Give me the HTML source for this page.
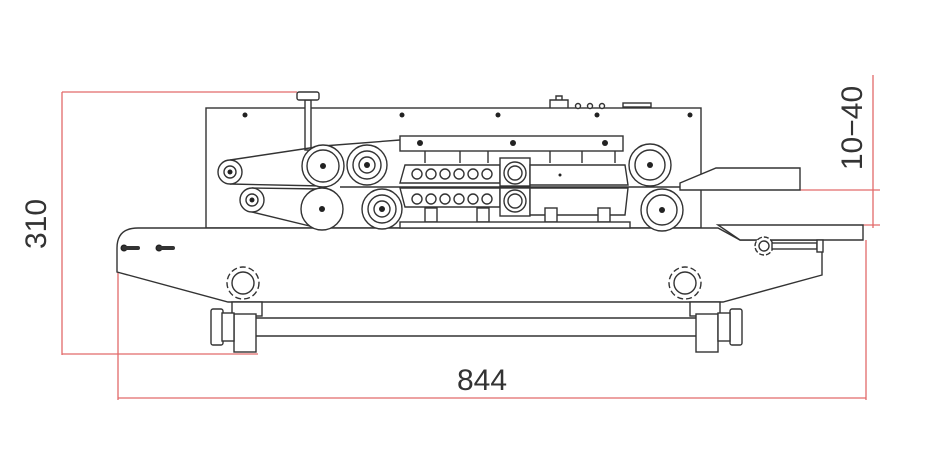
<!DOCTYPE html>
<html><head><style>
html,body{margin:0;padding:0;background:#fff;width:942px;height:462px;overflow:hidden}
svg{display:block}
text{font-family:"Liberation Sans",sans-serif;fill:#333}
</style></head><body>
<svg width="942" height="462" viewBox="0 0 942 462" xmlns="http://www.w3.org/2000/svg">
<g stroke="#e26a6a" stroke-width="1.3" fill="none">
<line x1="62" y1="92" x2="297" y2="92"/>
<line x1="62" y1="92" x2="62" y2="355"/>
<line x1="62" y1="354" x2="258" y2="354"/>
<line x1="873" y1="75" x2="873" y2="228"/>
<line x1="800" y1="190" x2="880" y2="190"/>
<line x1="863" y1="225" x2="880" y2="225"/>
<line x1="866" y1="240" x2="866" y2="400"/>
<line x1="118" y1="272" x2="118" y2="400"/>
<line x1="118" y1="398" x2="866" y2="398"/>
</g>
<text x="0" y="0" font-size="30" transform="translate(46,224) rotate(-90)" text-anchor="middle">310</text>
<text x="0" y="0" font-size="30" transform="translate(862,128) rotate(-90)" text-anchor="middle">10−40</text>
<text x="482" y="390" font-size="30" text-anchor="middle">844</text>

<g stroke="#333" stroke-width="1.4" fill="#fff">
<!-- upper box -->
<rect x="206" y="108" width="495" height="120"/>
<path d="M550 108 v-8 h18 v8 M556 100 v-4 h6 v4" fill="none"/>
<circle cx="578" cy="106" r="2.5"/><circle cx="590" cy="106" r="2.5"/><circle cx="602" cy="106" r="2.5"/>
<rect x="623" y="103" width="28" height="4"/>
<!-- knob post -->
<rect x="305" y="100" width="6" height="50"/>
<rect x="297" y="92" width="22" height="8" rx="2"/>
<!-- base -->
<path d="M138 228 H718 L740 240 H822 V275 L723 302 H228 L117 272 V248 Q117 228 138 228 Z"/>
<path d="M718 225 H863 V240 H740 Z"/>
<path d="M680 183 L716 168 H800 V190 H680 Z"/>
<!-- tube -->
<path d="M245 318 H700 M245 336 H700" fill="none"/>
<rect x="232" y="302" width="30" height="14"/>
<rect x="234" y="314" width="22" height="38"/>
<rect x="211" y="309" width="12" height="36" rx="2"/>
<rect x="222" y="313" width="12" height="28"/>
<rect x="690" y="302" width="30" height="14"/>
<rect x="696" y="314" width="22" height="38"/>
<rect x="730" y="309" width="12" height="36" rx="2"/>
<rect x="718" y="313" width="12" height="28"/>
<!-- star knobs -->
<circle cx="243" cy="283" r="16" stroke-dasharray="6 3"/><circle cx="243" cy="283" r="11"/>
<circle cx="685" cy="283" r="16" stroke-dasharray="6 3"/><circle cx="685" cy="283" r="11"/>
<circle cx="764" cy="246" r="9" stroke-dasharray="5 2"/><circle cx="764" cy="246" r="5"/>
<rect x="772" y="243" width="45" height="6"/><rect x="817" y="240" width="6" height="12"/>
<!-- belts -->
<path d="M230 160 L323 146 L400 140 M230 184 L323 186" fill="none"/>
<path d="M252 188 L322 189 M252 212 L322 229" fill="none"/>
<line x1="340" y1="187" x2="680" y2="187"/>
<!-- rollers -->
<circle cx="230" cy="172" r="12"/><circle cx="230" cy="172" r="6"/>
<circle cx="252" cy="200" r="12"/><circle cx="252" cy="200" r="6"/>
<circle cx="323" cy="166" r="21"/><circle cx="323" cy="166" r="16"/>
<circle cx="322" cy="209" r="21"/>
<circle cx="367" cy="165" r="20"/><circle cx="367" cy="165" r="14"/><circle cx="367" cy="165" r="8"/>
<circle cx="382" cy="209" r="20"/><circle cx="382" cy="209" r="14"/><circle cx="382" cy="209" r="8"/>
<circle cx="650" cy="165" r="21"/><circle cx="650" cy="165" r="15"/>
<circle cx="662" cy="210" r="21"/><circle cx="662" cy="210" r="15"/>
<!-- top bar -->
<rect x="400" y="136" width="223" height="15"/>
<path d="M425 151v12M460 151v12M488 151v12M550 151v12M582 151v12M615 151v12" fill="none"/>
<path d="M405 165 H500 V183 H400 Z"/>
<path d="M400 188 H500 V207 H405 Z"/>
<rect x="500" y="158" width="30" height="28"/><circle cx="515" cy="173" r="11"/><circle cx="515" cy="173" r="7"/>
<rect x="500" y="188" width="30" height="28"/><circle cx="515" cy="201" r="11"/><circle cx="515" cy="201" r="7"/>
<path d="M530 165 H625 L628 185 H530 Z"/>
<path d="M530 188 H628 L625 215 H530 Z"/>
<rect x="425" y="208" width="12" height="14"/><rect x="477" y="208" width="12" height="14"/>
<rect x="545" y="208" width="12" height="14"/><rect x="598" y="208" width="12" height="14"/>
<rect x="400" y="222" width="230" height="6"/>
<g fill="#fff">
<circle cx="417" cy="174" r="5"/><circle cx="431" cy="174" r="5"/><circle cx="445" cy="174" r="5"/><circle cx="459" cy="174" r="5"/><circle cx="473" cy="174" r="5"/><circle cx="487" cy="174" r="5"/>
<circle cx="417" cy="199" r="5"/><circle cx="431" cy="199" r="5"/><circle cx="445" cy="199" r="5"/><circle cx="459" cy="199" r="5"/><circle cx="473" cy="199" r="5"/><circle cx="487" cy="199" r="5"/>
</g>
</g>
<g fill="#222">
<circle cx="245" cy="115" r="2.5"/><circle cx="402" cy="115" r="2.5"/><circle cx="498" cy="115" r="2.5"/><circle cx="597" cy="115" r="2.5"/><circle cx="690" cy="115" r="2.5"/>
<circle cx="420" cy="143" r="3"/><circle cx="513" cy="143" r="3"/><circle cx="605" cy="143" r="3"/>
<circle cx="230" cy="172" r="2.5"/><circle cx="252" cy="200" r="2.5"/>
<circle cx="323" cy="166" r="3"/><circle cx="322" cy="209" r="3"/><circle cx="367" cy="165" r="3"/><circle cx="382" cy="209" r="3"/>
<circle cx="650" cy="165" r="3"/><circle cx="662" cy="210" r="3"/><circle cx="560" cy="175" r="1.5"/>
<circle cx="124" cy="248" r="3.5"/><circle cx="159" cy="248" r="3.5"/>
</g>
<path d="M124 248 h14 M159 248 h14" stroke="#333" stroke-width="4" fill="none" stroke-linecap="round"/>
</svg>
</body></html>
